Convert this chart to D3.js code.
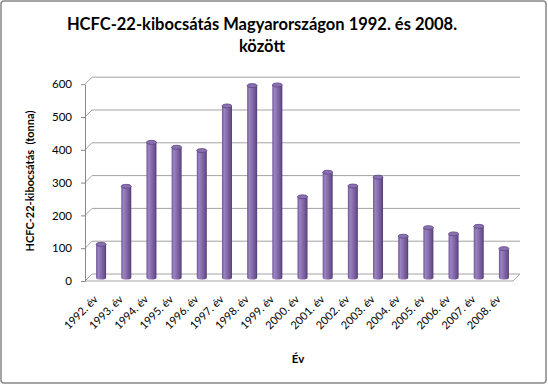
<!DOCTYPE html>
<html>
<head>
<meta charset="utf-8">
<script src="https://cdn.jsdelivr.net/npm/d3@7"></script>
<style>
  body { margin: 0; background: #fff; }
  svg text { font-family: Lato, "Open Sans", sans-serif; fill: #000; }
</style>
</head>
<body>
<svg id="chart" width="548" height="385"></svg>
<script>
const years = ["1992", "1993", "1994", "1995", "1996", "1997", "1998", "1999", "2000",
  "2001", "2002", "2003", "2004", "2005", "2006", "2007", "2008"];
const emissions = [101, 278, 412, 397, 387, 523, 585, 587, 246, 321, 279, 306, 126, 152, 133, 156, 88];
const yTicks = [0, 100, 200, 300, 400, 500, 600];

const titleLines = ["HCFC-22-kibocsátás Magyarországon 1992. és 2008.", "között"];
const yTitle = "HCFC-22-kibocsátás \u00a0(tonna)";
const xTitle = "Év";

const svg = d3.select("#chart");
const depth = 7; // 3d offset of the back wall

const x = d3.scaleBand().domain(years).range([85, 513]);
const y = d3.scaleLinear().domain([0, 600]).range([281, 84.2]);

// frame
svg.append("rect").
attr("x", 1).attr("y", 1).
attr("width", 545).attr("height", 382).
attr("rx", 3).
attr("fill", "#fff").
attr("stroke", "#878787").
attr("stroke-width", 1.5);

// title
svg.append("g").
selectAll("text").
data(titleLines).
enter().
append("text").
attr("x", 262).
attr("y", (d, i) => 30 + i * 22).
attr("text-anchor", "middle").
attr("font-size", 16.5).
attr("font-weight", "bold").
text(d => d);

// back wall gridlines with left wall diagonals
const grid = svg.append("g");
grid.selectAll("path").
data(yTicks).
enter().
append("path").
attr("d", d => `M85,${y(d)} L${85 + depth},${y(d) - depth} L${513 + depth},${y(d) - depth}`).
attr("fill", "none").
attr("stroke", "#a3a3a3").
attr("stroke-width", 1);

// floor front edge and right diagonal
svg.append("path").
attr("d", `M85,${y(0)} L513,${y(0)} L${513 + depth},${y(0) - depth}`).
attr("fill", "none").
attr("stroke", "#a3a3a3").
attr("stroke-width", 1);

// y axis
const yAxis = d3.axisLeft(y).tickValues(yTicks).tickSize(4).tickPadding(9).tickSizeOuter(0);
const yg = svg.append("g").attr("transform", "translate(85,0)").call(yAxis);
yg.select(".domain").attr("stroke", "#888");
yg.selectAll(".tick line").attr("stroke", "#888");
yg.selectAll(".tick text").attr("font-size", 11.5).attr("font-family", "Lato, sans-serif").attr("fill", "#000");

// bar gradient
const defs = svg.append("defs");
const grad = defs.append("linearGradient").attr("id", "cyl").attr("x1", "0%").attr("x2", "100%");
[["0%", "#6f5596"], ["22%", "#9a84c1"], ["55%", "#8468a8"], ["85%", "#6a5090"], ["100%", "#4c3a6c"]].
forEach(s => grad.append("stop").attr("offset", s[0]).attr("stop-color", s[1]));

// bars (cylinders at mid depth)
const barW = 10;
const ry = 2;
const mid = depth / 2;
const bars = svg.append("g").
selectAll("g").
data(years.map((yr, i) => ({ yr, v: emissions[i] }))).
enter().
append("g").
attr("transform", d => `translate(${x(d.yr) + x.bandwidth() / 2 + mid},${-mid})`);

bars.append("path").
attr("d", d => `M${-barW / 2},${y(d.v)} L${-barW / 2},${y(0)} A${barW / 2},${ry} 0 0 0 ${barW / 2},${y(0)} L${barW / 2},${y(d.v)} Z`).
attr("fill", "url(#cyl)");

bars.append("ellipse").
attr("cx", 0).
attr("cy", d => y(d.v)).
attr("rx", barW / 2).
attr("ry", ry).
attr("fill", "#8b71b2").
attr("stroke", "#5a4580").
attr("stroke-width", 0.8);

// x labels
svg.append("g").
selectAll("text").
data(years).
enter().
append("text").
attr("transform", d => `translate(${x(d) + x.bandwidth() / 2 + 1},${300}) rotate(-45)`).
attr("text-anchor", "end").
attr("font-size", 11).
text(d => d + ". év");

// axis titles
svg.append("text").
attr("transform", "translate(34,181) rotate(-90)").
attr("text-anchor", "middle").
attr("font-size", 11).
attr("font-weight", "bold").
text(yTitle);

svg.append("text").
attr("x", 298).
attr("y", 363).
attr("text-anchor", "middle").
attr("font-size", 11.5).
attr("font-weight", "bold").
text(xTitle);
</script>
</body>
</html>
